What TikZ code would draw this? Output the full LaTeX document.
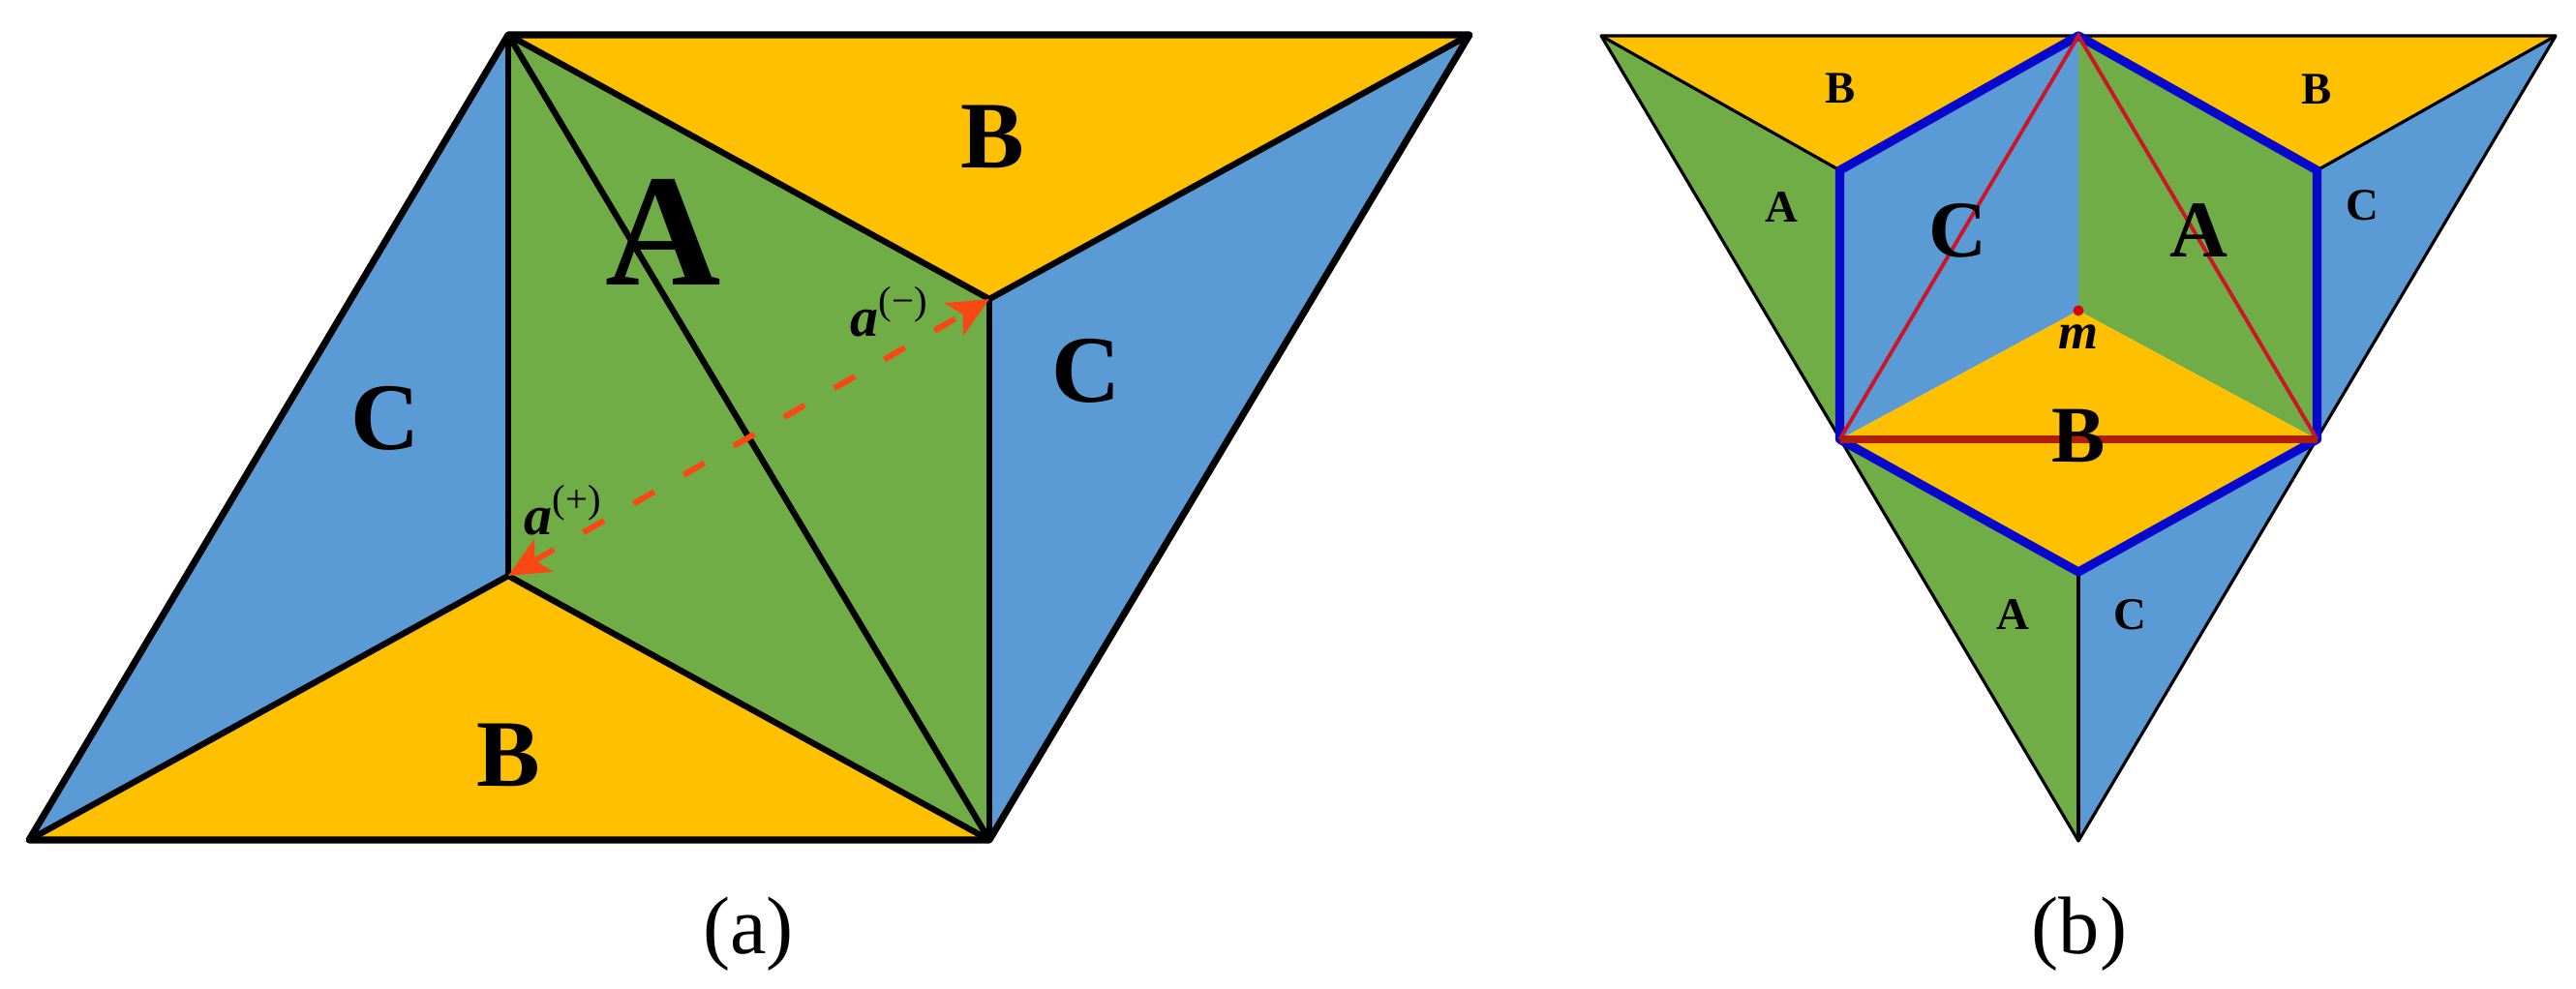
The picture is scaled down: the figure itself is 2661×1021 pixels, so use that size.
\documentclass[tikz,border=0pt]{standalone}
\usepackage{fontspec}
\setmainfont{Liberation Serif}
\usetikzlibrary{arrows.meta}
\definecolor{cblue}{RGB}{91,155,213}
\definecolor{cgreen}{RGB}{112,173,71}
\definecolor{cyellow}{RGB}{255,192,0}
\definecolor{arrred}{RGB}{250,72,20}
\definecolor{hexblue}{RGB}{8,8,205}
\definecolor{medred}{RGB}{205,20,40}
\definecolor{medredd}{RGB}{175,30,10}
\begin{document}
\begin{tikzpicture}[x=0.01cm,y=-0.01cm,
  edgeA/.style={line width=1.8pt,line join=round,line cap=round,black},
  edgeB/.style={line width=0.9pt,line join=round,black},
  hexline/.style={line width=2.6pt,line join=round,hexblue},
  medline/.style={line width=1.1pt,medred},
  medlinethick/.style={line width=2.2pt,medredd},
  dblarrow/.style={arrred,line width=1.7pt,dash pattern=on 7pt off 10pt,
    {Stealth[length=12pt,width=11pt,inset=3pt]}-{Stealth[length=12pt,width=11pt,inset=3pt]}},
  lblhuge/.style={font=\fontsize{47}{50}\selectfont\bfseries,inner sep=0pt},
  lblmid/.style={font=\fontsize{28}{30}\selectfont\bfseries,inner sep=0pt},
  lblbig/.style={font=\fontsize{23.6}{26}\selectfont\bfseries,inner sep=0pt},
  lblsmall/.style={font=\fontsize{13.3}{15}\selectfont\bfseries,inner sep=0pt},
  veclbl/.style={font=\fontsize{16.5}{18}\selectfont,inner sep=0pt,anchor=base west},
  caption/.style={font=\fontsize{24}{26}\selectfont,inner sep=0pt,anchor=base}]
\useasboundingbox (0,0) rectangle (2661,1021);

% ---------------- panel (a) ----------------
\coordinate (aBL) at (30,868);
\coordinate (aBR) at (1022,868);
\coordinate (aTL) at (525,36);
\coordinate (aTR) at (1518,36);
\coordinate (aP) at (525,595);
\coordinate (aQ) at (1022,309);

\fill[cblue] (aBL) -- (aTL) -- (aP) -- cycle;
\fill[cyellow] (aBL) -- (aP) -- (aBR) -- cycle;
\fill[cgreen] (aTL) -- (aP) -- (aBR) -- (aQ) -- cycle;
\fill[cyellow] (aTL) -- (aTR) -- (aQ) -- cycle;
\fill[cblue] (aQ) -- (aTR) -- (aBR) -- cycle;

\draw[edgeA] (aTL) -- (aP);
\draw[edgeA] (aBL) -- (aP) -- (aBR);
\draw[edgeA] (aTL) -- (aQ) -- (aTR);
\draw[edgeA] (aQ) -- (aBR);
\draw[edgeA] (aTL) -- (aBR);
\draw[edgeA,line width=2pt] (aBL) -- (aBR) -- (aTR) -- (aTL) -- cycle;

\draw[dblarrow] (aP) -- (aQ);

\node[lblhuge] (labA) at (685,240) {A};
\node[lblmid] (labCl) at (398,432) {C};
\node[lblmid] (labBb) at (525,780) {B};
\node[lblmid] (labBt) at (1025,141) {B};
\node[lblmid] (labCr) at (1122,383) {C};
\node[veclbl] (aminus) at (878,347) {\textbf{\textit{a}}\textsuperscript{(−)}};
\node[veclbl] (aplus) at (541,552) {\textbf{\textit{a}}\textsuperscript{(+)}};

\node[caption] (capa) at (773,985) {(a)};

% ---------------- panel (b) ----------------
\coordinate (bTL) at (1654,37);
\coordinate (bTR) at (2640,37);
\coordinate (bBot) at (2147,869);
\coordinate (bMt) at (2147,37);
\coordinate (bMl) at (1900.5,454);
\coordinate (bMr) at (2393.5,454);
\coordinate (bG1) at (1900.5,176);
\coordinate (bG2) at (2393.5,176);
\coordinate (bG3) at (2147,591);
\coordinate (bm) at (2147,321);

\fill[cyellow] (bTL) -- (bMt) -- (bG1) -- cycle;
\fill[cgreen] (bTL) -- (bG1) -- (bMl) -- cycle;
\fill[cyellow] (bMt) -- (bTR) -- (bG2) -- cycle;
\fill[cblue] (bTR) -- (bG2) -- (bMr) -- cycle;
\fill[cgreen] (bMl) -- (bG3) -- (bBot) -- cycle;
\fill[cblue] (bG3) -- (bMr) -- (bBot) -- cycle;
\fill[cblue] (bMt) -- (bG1) -- (bMl) -- (bm) -- cycle;
\fill[cgreen] (bMt) -- (bG2) -- (bMr) -- (bm) -- cycle;
\fill[cyellow] (bMl) -- (bm) -- (bMr) -- (bG3) -- cycle;

\draw[edgeB] (bTL) -- (bTR) -- (bBot) -- cycle;
\draw[edgeB] (bTL) -- (bG1);
\draw[edgeB] (bTR) -- (bG2);
\draw[edgeB] (bG3) -- (bBot);

\draw[hexline] (bMt) -- (bG1) -- (bMl) -- (bG3) -- (bMr) -- (bG2) -- cycle;

\draw[medline] (bMl) -- (bMt) -- (bMr);
\draw[medlinethick] (bMl) -- (bMr);

\fill[red!85!black] (bm) circle (5.5);
\node[font=\fontsize{15}{17}\selectfont\bfseries\itshape,inner sep=0pt] (mlab) at (2147,348) {m};

\node[lblsmall] (sB1) at (1901,91) {B};
\node[lblsmall] (sB2) at (2393,92) {B};
\node[lblsmall] (sA1) at (1840,214) {A};
\node[lblsmall] (sC1) at (2440,212) {C};
\node[lblsmall] (sA2) at (2079,635) {A};
\node[lblsmall] (sC2) at (2200,635) {C};
\node[lblbig] (bC) at (2022,238) {C};
\node[lblbig] (bA) at (2271,238) {A};
\node[lblbig] (bB) at (2147,450) {B};

\node[caption] (capb) at (2148,985) {(b)};
\end{tikzpicture}
\end{document}
